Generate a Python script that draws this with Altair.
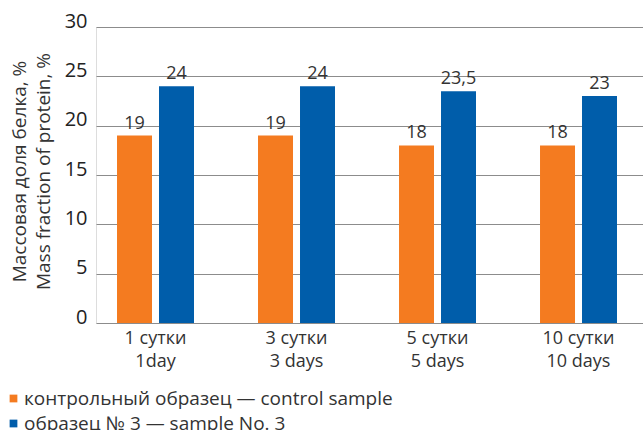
import altair as alt
import pandas as pd

# Storage time points (two-line axis labels) and the two sample series
categories = ["1 сутки\n1day", "3 сутки\n3 days", "5 сутки\n5 days", "10 сутки\n10 days"]
series = ["контрольный образец — control sample", "образец № 3 — sample No. 3"]
control_values = [19, 19, 18, 18]
sample_values = [24, 24, 23.5, 23]
colors = ["#F47B20", "#005DAA"]
y_ticks = [0, 5, 10, 15, 20, 25, 30]

rows = []
for cat, c, s in zip(categories, control_values, sample_values):
    rows.append({"category": cat, "series": series[0], "value": c})
    rows.append({"category": cat, "series": series[1], "value": s})
df = pd.DataFrame(rows)
df["label"] = df["value"].map(lambda v: (f"{v:g}").replace(".", ","))

FONT = "Open Sans"

x_enc = alt.X(
    "category:N",
    sort=categories,
    scale=alt.Scale(paddingInner=0.454, paddingOuter=0.1667, align=0.447),
    axis=alt.Axis(
        title=None,
        labelExpr="split(datum.label, '\\n')",
        domain=False,
        ticks=False,
        grid=False,
        labelAngle=0,
        labelFont=FONT,
        labelFontSize=18,
        labelLineHeight=23,
        labelPadding=6,
        labelColor="#333333",
    ),
)
xoff_enc = alt.XOffset(
    "series:N", sort=series, scale=alt.Scale(paddingInner=0.1667, paddingOuter=0)
)
y_enc = alt.Y(
    "value:Q",
    scale=alt.Scale(domain=[0, 30], nice=False),
    axis=alt.Axis(
        values=y_ticks,
        title=["Массовая доля белка, %", "Mass fraction of protein, %"],
        titleFont=FONT,
        titleFontSize=19,
        titleFontWeight="normal",
        titleColor="#333333",
        titleLineHeight=24,
        titleX=-77,
        titleY=144,
        titleBaseline="middle",
        titleAlign="center",
        domain=False,
        ticks=False,
        tickSize=0,
        labelPadding=9,
        labelFont=FONT,
        labelFontSize=20,
        labelFontWeight=500,
        labelColor="#222222",
        labelBaseline="alphabetic",
        labelOverlap=False,
        grid=True,
        gridColor="#8c8c8c",
        gridWidth=1,
    ),
)

bars = alt.Chart(df).mark_bar().encode(
    x=x_enc,
    xOffset=xoff_enc,
    y=y_enc,
    color=alt.Color(
        "series:N",
        sort=series,
        scale=alt.Scale(domain=series, range=colors),
        legend=alt.Legend(
            title=None,
            orient="none",
            legendX=-92,
            legendY=362,
            direction="vertical",
            symbolType="square",
            symbolSize=60,
            symbolStrokeWidth=0,
            labelFont=FONT,
            labelFontSize=19,
            labelColor="#333333",
            labelOffset=1,
            labelLimit=0,
            rowPadding=5,
            padding=0,
        ),
    ),
)

labels = alt.Chart(df).mark_text(
    baseline="alphabetic", dy=-7, font=FONT, fontSize=18, color="#333333"
).encode(x=x_enc, xOffset=xoff_enc, y=y_enc, text="label:N")

chart = (
    alt.layer(bars, labels)
    .properties(
        width=547,
        height=296,
        autosize=alt.AutoSizeParams(type="none"),
        padding={"left": 96, "top": 27, "right": 0, "bottom": 107},
    )
    .configure_view(stroke=None)
    .configure(background="white")
)

chart.save("out.html", embed_options={"renderer": "svg", "actions": False})
